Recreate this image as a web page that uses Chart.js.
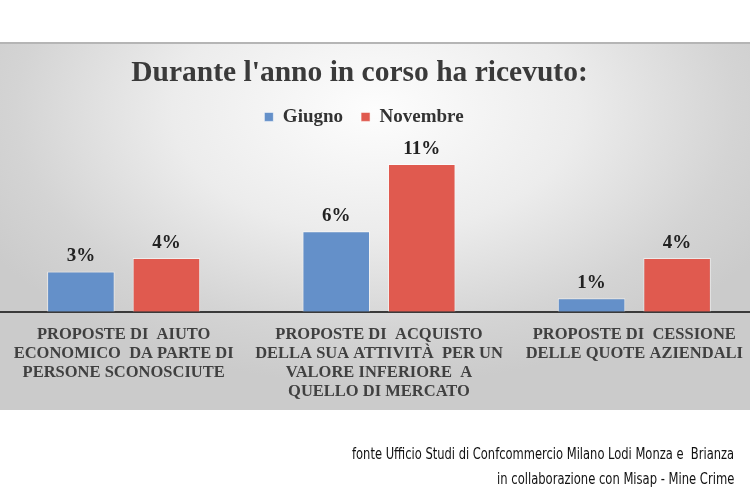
<!DOCTYPE html>
<html>
<head>
<meta charset="utf-8">
<script src="https://cdn.jsdelivr.net/npm/chart.js@4.4.1/dist/chart.umd.min.js"></script>
<style>
  html, body { margin: 0; padding: 0; background: #fff; overflow: hidden; }
  body { width: 750px; height: 500px; position: relative; }
  #panel {
    position: absolute; left: 0; top: 42px; width: 750px; height: 366px;
    border-top: 2px solid #b5b5b5;
    background: radial-gradient(ellipse 60% 75% at 50% 18%, #fdfdfd 0%, #ececec 45%, #d4d4d4 80%, #cbcbcb 100%);
  }
  #wrap { position: absolute; left: -4px; top: 0; width: 766px; height: 500px; }
  .note {
    position: absolute; right: 16px; white-space: nowrap;
    font-family: "DejaVu Sans Condensed", "Liberation Sans Narrow", sans-serif;
    font-stretch: condensed; font-size: 16px; color: #111;
    transform-origin: right center;
  }
</style>
</head>
<body>
<div id="panel"></div>
<div id="wrap"><canvas id="chart"></canvas></div>
<div class="note" id="note1" style="top:444px">fonte Ufficio Studi di Confcommercio Milano Lodi Monza e&nbsp; Brianza</div>
<div class="note" id="note2" style="top:469px">in collaborazione con Misap - Mine Crime</div>
<script>
const categories = [
  ["PROPOSTE DI  AIUTO", "ECONOMICO  DA PARTE DI", "PERSONE SCONOSCIUTE"],
  ["PROPOSTE DI  ACQUISTO", "DELLA SUA ATTIVITÀ  PER UN", "VALORE INFERIORE  A", "QUELLO DI MERCATO"],
  ["PROPOSTE DI  CESSIONE", "DELLE QUOTE AZIENDALI"],
];
const seriesNames = ["Giugno", "Novembre"];
const giugno = [3, 6, 1];
const novembre = [4, 11, 4];

const SERIF = '"Liberation Serif", "Times New Roman", serif';

// value labels above each bar
const valueLabels = {
  id: "valueLabels",
  afterDatasetsDraw(chart) {
    const { ctx } = chart;
    ctx.save();
    ctx.font = "bold 19px " + SERIF;
    ctx.fillStyle = "#222";
    ctx.textAlign = "center";
    ctx.textBaseline = "alphabetic";
    chart.data.datasets.forEach((ds, i) => {
      chart.getDatasetMeta(i).data.forEach((bar, j) => {
        ctx.fillText(ds.data[j] + "%", bar.x, bar.y - 10);
      });
    });
    ctx.restore();
  },
};

// title and legend sit a little left of the plot centre in the original
const headerShift = {
  id: "headerShift",
  afterLayout(chart) {
    chart.titleBlock.left = 0;
    chart.titleBlock.right = 727;
    chart.legend.left = 0;
    chart.legend.right = 736;
  },
};

new Chart(document.getElementById("chart").getContext("2d"), {
  type: "bar",
  data: {
    labels: categories,
    datasets: [
      {
        label: seriesNames[0],
        data: giugno,
        backgroundColor: "#6490c9",
        borderColor: "rgba(255,255,255,0.55)",
        borderWidth: 1,
      },
      {
        label: seriesNames[1],
        data: novembre,
        backgroundColor: "#e05a4f",
        borderColor: "rgba(255,255,255,0.55)",
        borderWidth: 1,
      },
    ],
  },
  options: {
    responsive: true,
    maintainAspectRatio: false,
    animation: false,
    categoryPercentage: 0.67,
    barPercentage: 0.79,
    layout: { padding: { top: 50, bottom: 93, left: 0, right: 0 } },
    plugins: {
      tooltip: { enabled: false },
      title: {
        display: true,
        text: "Durante l'anno in corso ha ricevuto:",
        color: "#3a3a3a",
        font: { family: SERIF, size: 29.5, weight: "bold" },
        padding: { top: 6, bottom: -2 },
      },
      legend: {
        display: true,
        position: "top",
        labels: {
          boxWidth: 9,
          boxHeight: 9,
          color: "#333",
          padding: 18,
          font: { family: SERIF, size: 19, weight: "bold" },
        },
      },
    },
    scales: {
      x: {
        grid: { display: false },
        border: { color: "#3a3a3a", width: 2 },
        ticks: {
          color: "#404040",
          padding: 6,
          maxRotation: 0,
          autoSkip: false,
          font: { family: SERIF, size: 16.5, weight: "bold", lineHeight: 1.14 },
        },
      },
      y: {
        display: false,
        min: 0,
        max: 13.05,
      },
    },
  },
  plugins: [valueLabels, headerShift],
});

// squeeze the footer lines to the width they have in the original
[["note1", 382], ["note2", 237]].forEach(([id, w]) => {
  const el = document.getElementById(id);
  el.style.transform = "scaleX(" + (w / el.offsetWidth) + ")";
});
</script>
</body>
</html>
